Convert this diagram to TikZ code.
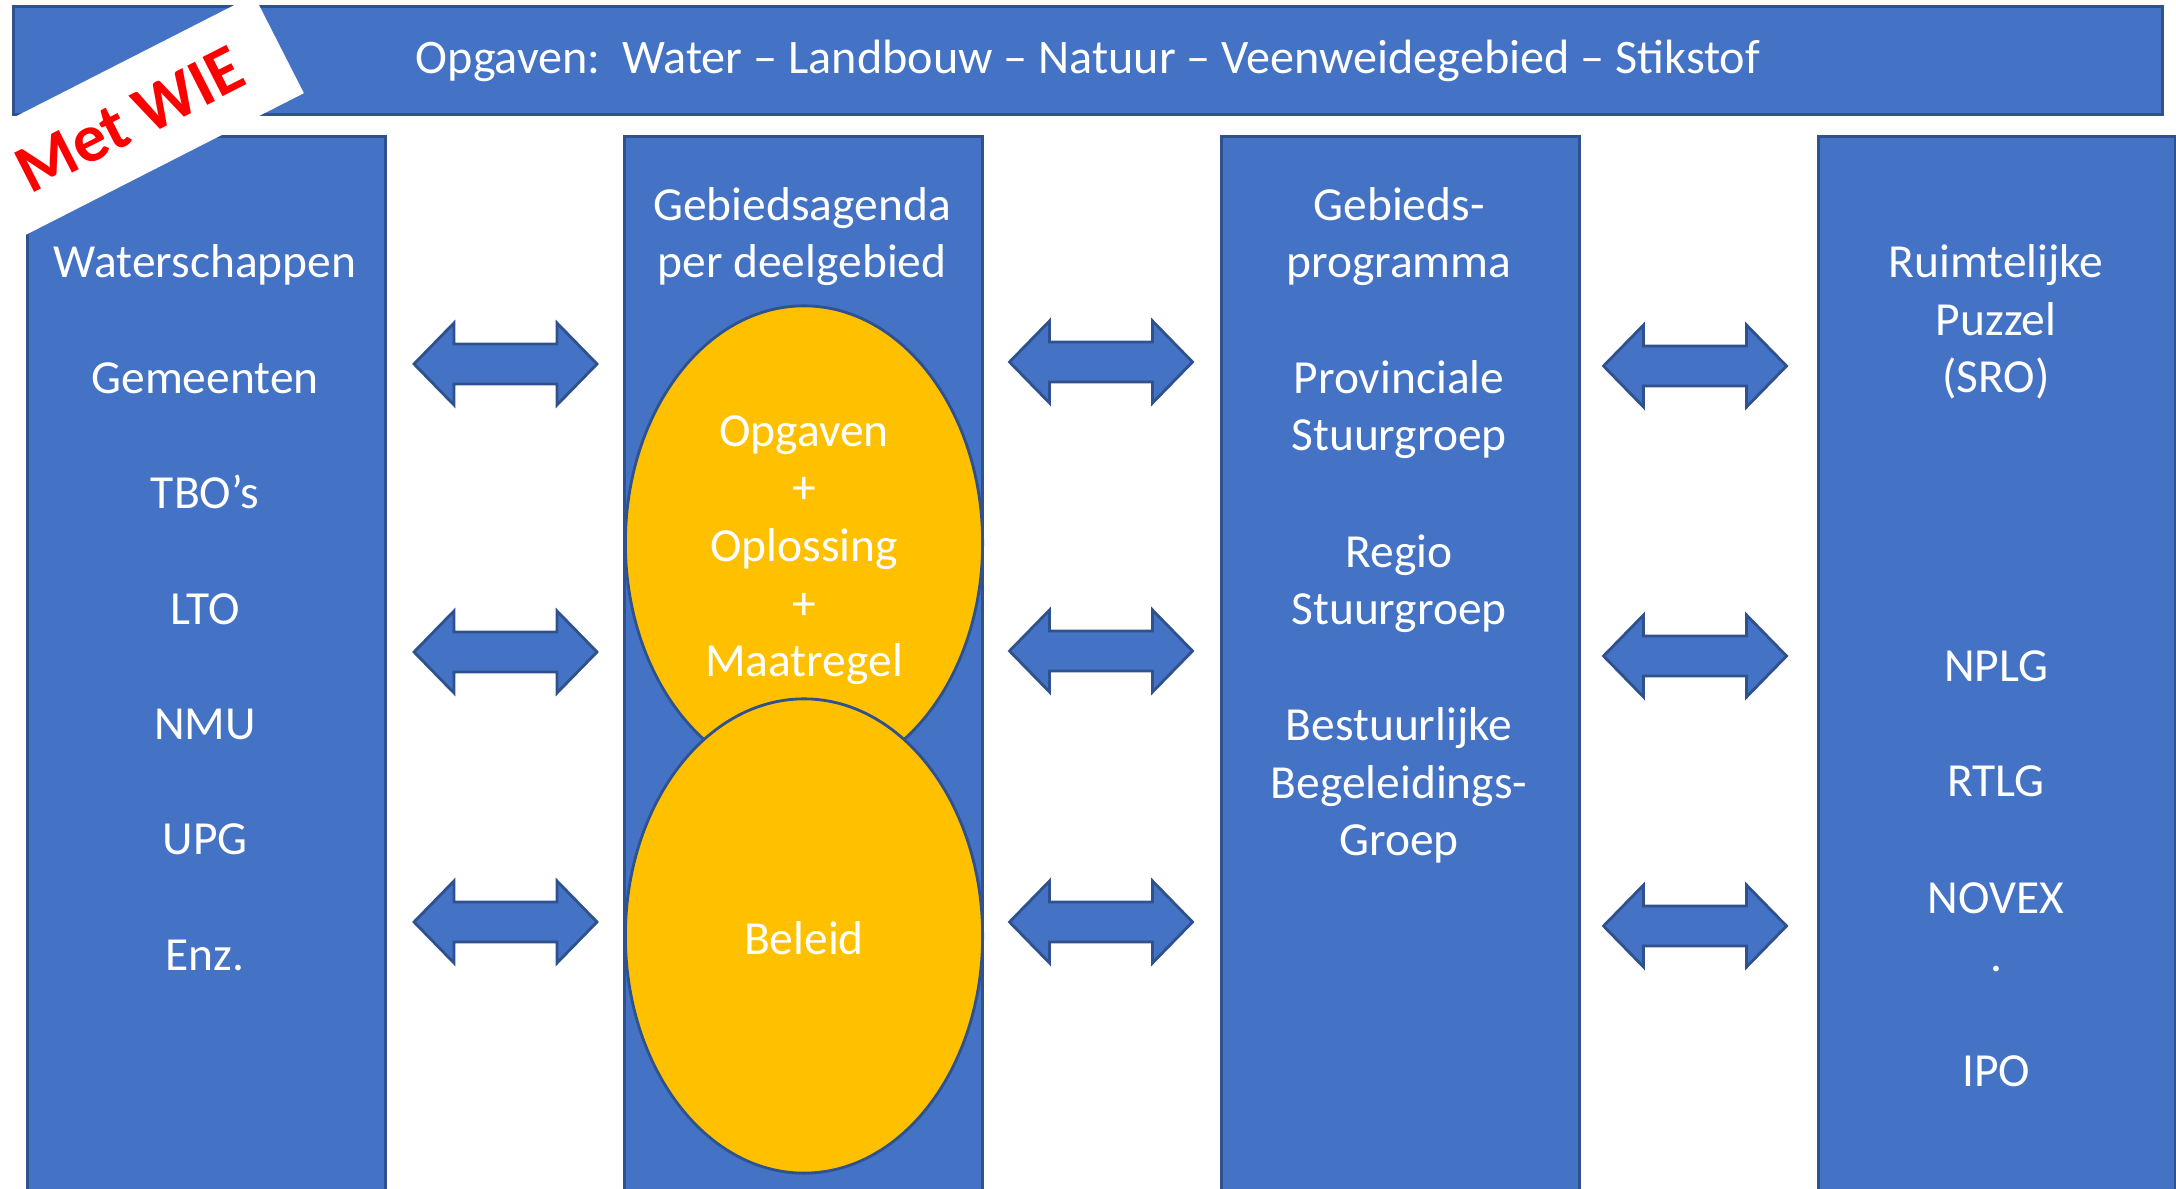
\documentclass[tikz,border=0pt]{standalone}
\usepackage{fontspec}
\setmainfont{Carlito}
\usepackage{xcolor}
\definecolor{boxBlue}{HTML}{4472C4}
\definecolor{lineBlue}{HTML}{2F528F}
\definecolor{ovalGold}{HTML}{FFC000}
\definecolor{stampRed}{HTML}{FF0000}
\usepackage{tikz}
\usetikzlibrary{positioning,shapes.geometric}
\tikzset{%
  colBox/.style={%
    rectangle,
    draw=lineBlue,
    fill=boxBlue,
    line width=0.8pt,
    inner sep=0pt
  },
  colText/.style={%
    text=white,
    font=\fontsize{13.5}{16.4}\selectfont,
    align=center,
    anchor=base,
    inner sep=0pt
  },
  ovalBox/.style={%
    ellipse,
    draw=lineBlue,
    fill=ovalGold,
    line width=0.8pt,
    minimum width=3.57cm,
    minimum height=4.74cm,
    inner sep=0pt
  },
  arrowShape/.style={%
    draw=lineBlue,
    fill=boxBlue,
    line width=0.8pt,
    line join=miter
  }
}
\newcommand{\twoWay}[2]{%
  \draw[arrowShape] (#1-91.5,#2) -- ++(40,-41) -- ++(0,21) -- ++(103,0) -- ++(0,-21)
    -- ++(40,41) -- ++(-40,41) -- ++(0,-21) -- ++(-103,0) -- ++(0,21) -- cycle;}

\begin{document}
\begin{tikzpicture}[x=0.01cm, y=-0.01cm]
  \useasboundingbox (0,0) rectangle (2176,1189);
  \clip (0,0) rectangle (2176,1189);

  % banner
  \node[colBox, anchor=north west, minimum width=21.48cm, minimum height=1.08cm,
        text=white, font=\fontsize{13.7}{16.4}\selectfont] (opgaven) at (12,5)
        {Opgaven:\ \ Water – Landbouw – Natuur – Veenweidegebied – Stikstof};

  % columns
  \node[colBox, anchor=north west, minimum width=3.58cm, minimum height=11cm] (colPartners) at (26,135) {};
  \node[colBox, anchor=north west, minimum width=3.58cm, minimum height=11cm] (colAgenda) at (623,135) {};
  \node[colBox, anchor=north west, minimum width=3.58cm, minimum height=11cm] (colProgramma) at (1220,135) {};
  \node[colBox, anchor=north west, minimum width=3.57cm, minimum height=11cm] (colPuzzel) at (1817,135) {};

  \node[ovalBox] (ovalOpgaven) at (804,543) {};
  \node[ovalBox] (ovalBeleid) at (804,936) {};

  % texts (base = last line)
  \foreach \name [count=\i] in {Waterschappen,Gemeenten,TBO’s,LTO,NMU,UPG,Enz.}
    \node[colText] (partner\i) at (205,{278+115.4*(\i-1)}) {\name};

  \node[colText] (agendaTitle) at (802,278) {Gebiedsagenda\\per deelgebied};
  \node[colText] (opgavenTxt) at (804,677) {Opgaven\\+\\Oplossing\\+\\Maatregel};
  \node[colText] (beleidTxt) at (804,954) {Beleid};

  \node[colText] (progTitle) at (1399,278) {Gebieds-\\programma};
  \node[colText] (provSG) at (1399,451) {Provinciale\\Stuurgroep};
  \node[colText] (regioSG) at (1399,625) {Regio\\Stuurgroep};
  \node[colText] (bbg) at (1399,856) {Bestuurlijke\\Begeleidings-\\Groep};

  \node[colText] (puzzelTitle) at (1996,393) {Ruimtelijke\\Puzzel\\(SRO)};
  \node[colText] (nplg) at (1996,682) {NPLG};
  \node[colText] (rtlg) at (1996,797) {RTLG};
  \node[colText] (novex) at (1996,971) {NOVEX\\.};
  \node[colText] (ipo) at (1996,1086) {IPO};

  % arrows
  \foreach \ax/\ay in {505.5/364, 505.5/652, 505.5/922, 1101/362, 1101/651, 1101/922,
                       1695/366, 1695/656, 1695/926}
    \twoWay{\ax}{\ay};

  \node[fill=white, rotate=27, minimum width=3.34cm, minimum height=1.1cm, inner sep=0pt,
        text=stampRed, font=\bfseries\fontsize{19.3}{19}\selectfont] (metWie) at (130,120) {Met WIE};
\end{tikzpicture}
\end{document}
